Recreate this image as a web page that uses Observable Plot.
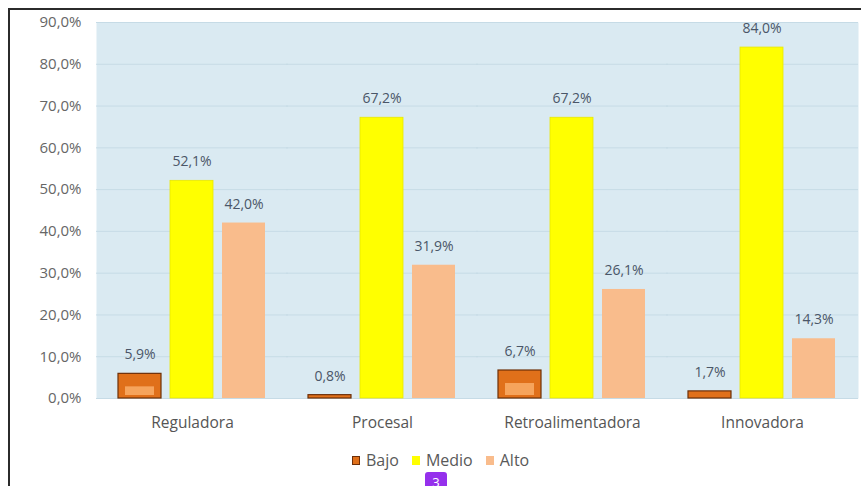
<!DOCTYPE html>
<html><head><meta charset="utf-8">
<script src="https://cdn.jsdelivr.net/npm/d3@7"></script>
<script src="https://cdn.jsdelivr.net/npm/@observablehq/plot@0.6"></script>
<style>
html,body{margin:0;padding:0;background:#fff;}
body{width:861px;height:486px;overflow:hidden;position:relative;font-family:"Open Sans",sans-serif;}
#frame{position:absolute;left:8px;top:8px;width:900px;height:600px;border-left:2px solid #2b2b2b;border-top:2px solid #2b2b2b;box-sizing:border-box;}
#chart{position:absolute;left:0;top:0;}
#legend{position:absolute;left:352px;top:449px;display:flex;align-items:center;font-size:16px;color:#595959;gap:0;}
#legend .item{display:flex;align-items:center;margin-right:13px;}
#legend .sw{width:8px;height:9px;margin-right:6px;box-sizing:border-box;}
#badge{position:absolute;left:425px;top:472px;width:22px;height:20px;background:#9530ec;border-radius:3px;color:#fff;font-size:13px;text-align:center;line-height:20px;}
</style>
</head><body>
<div id="frame"></div>
<div id="chart"></div>
<div id="legend"></div>
<div id="badge">3</div>
<script>
const categories = ["Reguladora", "Procesal", "Retroalimentadora", "Innovadora"];
const series = ["Bajo", "Medio", "Alto"];
const bajo = [5.9, 0.8, 6.7, 1.7];
const medio = [52.1, 67.2, 67.2, 84.0];
const alto = [42.0, 31.9, 26.1, 14.3];
const yTicks = [0, 10, 20, 30, 40, 50, 60, 70, 80, 90];
const colors = {Bajo: "#e0701a", Medio: "#ffff00", Alto: "#f9bc8c"};

const fmt = v => v.toFixed(1).replace(".", ",") + "%";
const rows = [];
categories.forEach((c, i) => {
  rows.push({cat: c, series: "Bajo", value: bajo[i]});
  rows.push({cat: c, series: "Medio", value: medio[i]});
  rows.push({cat: c, series: "Alto", value: alto[i]});
});
const bajoRows = rows.filter(d => d.series === "Bajo");
const medioRows = rows.filter(d => d.series === "Medio");
const altoRows = rows.filter(d => d.series === "Alto");

const chart = Plot.plot({
  width: 861,
  height: 440,
  marginLeft: 97,
  marginRight: 4,
  marginTop: 22,
  marginBottom: 42,
  style: {fontFamily: "'Open Sans', sans-serif", background: "transparent"},
  fx: {domain: categories, padding: 0, label: null},
  x: {domain: series, paddingInner: 0.173, paddingOuter: 0.413, axis: null},
  y: {domain: [0, 90], label: null},
  marks: [
    Plot.frame({fill: "#daeaf2", stroke: null, insetLeft: -1, insetRight: -1}),
    Plot.gridY(yTicks, {stroke: "#c6dbe6", strokeOpacity: 1, insetLeft: -1, insetRight: -1}),
    Plot.barY(bajoRows, {fx: "cat", x: "series", y: "value", fill: colors.Bajo, stroke: "#6d2f08", strokeWidth: 1.2}),
    Plot.barY(bajoRows.filter(d => d.value > 4), {fx: "cat", x: "series", y: "value", fill: "#f6a45c", insetTop: 13, insetBottom: 3, insetLeft: 7, insetRight: 7}),
    Plot.barY(medioRows, {fx: "cat", x: "series", y: "value", fill: colors.Medio, stroke: "#e8e800", strokeWidth: 0.8}),
    Plot.barY(altoRows, {fx: "cat", x: "series", y: "value", fill: colors.Alto}),
    Plot.text(rows, {fx: "cat", x: "series", y: "value", text: d => fmt(d.value), dy: -19, fill: "#4a5668", fontSize: 14}),
    Plot.axisY(yTicks, {tickSize: 0, tickPadding: 16, tickFormat: fmt, fontSize: 15, fill: "#666", label: null}),
    Plot.axisFx({anchor: "bottom", tickSize: 0, tickPadding: 18, fontSize: 15.5, fill: "#555", label: null})
  ]
});
document.getElementById("chart").appendChild(chart);

const legend = document.getElementById("legend");
series.forEach(s => {
  const item = document.createElement("div");
  item.className = "item";
  const sw = document.createElement("span");
  sw.className = "sw";
  sw.style.background = colors[s];
  if (s === "Bajo") sw.style.border = "1.5px solid #6d2f08";
  const t = document.createElement("span");
  t.textContent = s;
  item.appendChild(sw);
  item.appendChild(t);
  legend.appendChild(item);
});
</script>
</body></html>
